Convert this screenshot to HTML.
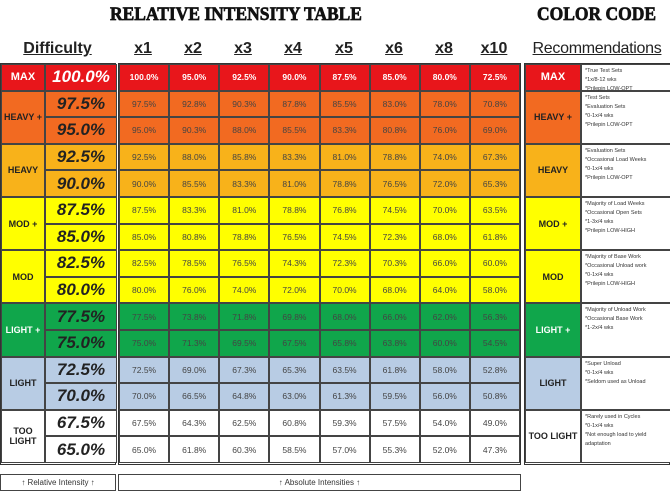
<!DOCTYPE html>
<html><head><style>
body{margin:0;width:670px;height:493px;background:#fff;font-family:"Liberation Sans",sans-serif;position:relative;overflow:hidden}
.abs{position:absolute}
.title{font-family:"Liberation Serif",serif;font-weight:bold;font-size:19px;color:#111;top:4px;white-space:nowrap;transform-origin:left top;-webkit-text-stroke:0.7px #111}
.hd{top:40px;font-size:16px;font-weight:bold;text-decoration:underline;color:#222;text-align:center;white-space:nowrap}
.g{display:grid;grid-template-rows:repeat(15,26.6px);border:1.5px solid #333;box-sizing:border-box;top:63px;height:402px}
.g>div{border:0.5px solid #444;display:flex;align-items:center;justify-content:center;box-sizing:border-box}
.lab{font-size:9px;font-weight:bold;color:#222;text-align:center}
.val{font-size:17px;font-weight:bold;font-style:italic;color:#222}
.c{font-size:8.5px;color:#444}
.n{font-size:5.5px;color:#333;justify-content:flex-start!important;align-items:flex-start!important;padding:2px 3px;line-height:9px;background:#fff}
.r{background:#e8161b}.o{background:#f26a21}.h{background:#f8b21a}.y{background:#ffff00}.gr{background:#10a64b}.b{background:#b8cce4}.w{background:#fff}
.foot{top:474px;height:17px;border:1px solid #444;font-size:8px;color:#333;display:flex;align-items:center;justify-content:center;box-sizing:border-box}
</style></head><body>
<div class="abs title" style="left:110px;transform:scaleX(0.92)">RELATIVE INTENSITY TABLE</div>
<div class="abs title" style="left:537px;transform:scaleX(0.92)">COLOR CODE</div>
<div class="abs hd" style="left:0;width:115px">Difficulty</div>
<div class="abs hd" style="left:118px;width:50px">x1</div>
<div class="abs hd" style="left:168px;width:50px">x2</div>
<div class="abs hd" style="left:218px;width:50px">x3</div>
<div class="abs hd" style="left:268px;width:50px">x4</div>
<div class="abs hd" style="left:319px;width:50px">x5</div>
<div class="abs hd" style="left:369px;width:50px">x6</div>
<div class="abs hd" style="left:419px;width:50px">x8</div>
<div class="abs hd" style="left:469px;width:50px">x10</div>
<div class="abs hd" style="left:524px;width:146px;font-size:16px;font-weight:normal;letter-spacing:-0.3px">Recommendations</div>

<div class="abs g" style="left:0;width:116px;grid-template-columns:44px 72px">
<div class="lab r" style="color:#fff;font-size:11px">MAX</div><div class="val r" style="color:#fff">100.0%</div>
<div class="lab o" style="grid-row:span 2">HEAVY +</div><div class="val o">97.5%</div><div class="val o">95.0%</div>
<div class="lab h" style="grid-row:span 2">HEAVY</div><div class="val h">92.5%</div><div class="val h">90.0%</div>
<div class="lab y" style="grid-row:span 2">MOD +</div><div class="val y">87.5%</div><div class="val y">85.0%</div>
<div class="lab y" style="grid-row:span 2">MOD</div><div class="val y">82.5%</div><div class="val y">80.0%</div>
<div class="lab gr" style="grid-row:span 2;color:#fff">LIGHT +</div><div class="val gr">77.5%</div><div class="val gr">75.0%</div>
<div class="lab b" style="grid-row:span 2">LIGHT</div><div class="val b">72.5%</div><div class="val b">70.0%</div>
<div class="lab w" style="grid-row:span 2">TOO<br>LIGHT</div><div class="val w">67.5%</div><div class="val w">65.0%</div>
</div>

<div class="abs g" id="m" style="left:118px;width:403px;grid-template-columns:repeat(8,1fr)"></div>

<div class="abs g" style="left:524px;width:146px;grid-template-columns:56px 90px">
<div class="lab r" style="color:#fff;font-size:11px">MAX</div><div class="n">*True Test Sets<br>*1x/8-12 wks<br>*Prilepin LOW-OPT</div>
<div class="lab o" style="grid-row:span 2">HEAVY +</div><div class="n" style="grid-row:span 2">*Test Sets<br>*Evaluation Sets<br>*0-1x/4 wks<br>*Prilepin LOW-OPT</div>
<div class="lab h" style="grid-row:span 2">HEAVY</div><div class="n" style="grid-row:span 2">*Evaluation Sets<br>*Occasional Load Weeks<br>*0-1x/4 wks<br>*Prilepin LOW-OPT</div>
<div class="lab y" style="grid-row:span 2">MOD +</div><div class="n" style="grid-row:span 2">*Majority of Load Weeks<br>*Occasional Open Sets<br>*1-3x/4 wks<br>*Prilepin LOW-HIGH</div>
<div class="lab y" style="grid-row:span 2">MOD</div><div class="n" style="grid-row:span 2">*Majority of Base Work<br>*Occasional Unload work<br>*0-1x/4 wks<br>*Prilepin LOW-HIGH</div>
<div class="lab gr" style="grid-row:span 2;color:#fff">LIGHT +</div><div class="n" style="grid-row:span 2">*Majority of Unload Work<br>*Occasional Base Work<br>*1-2x/4 wks</div>
<div class="lab b" style="grid-row:span 2">LIGHT</div><div class="n" style="grid-row:span 2">*Super Unload<br>*0-1x/4 wks<br>*Seldom used as Unload</div>
<div class="lab w" style="grid-row:span 2">TOO LIGHT</div><div class="n" style="grid-row:span 2">*Rarely used in Cycles<br>*0-1x/4 wks<br>*Not enough load to yield adaptation</div>
</div>

<div class="abs foot" style="left:0;width:116px">↑ Relative Intensity ↑</div>
<div class="abs foot" style="left:118px;width:403px">↑ Absolute Intensities ↑</div>
<script>
var d=[["r","100.0 95.0 92.5 90.0 87.5 85.0 80.0 72.5"],["o","97.5 92.8 90.3 87.8 85.5 83.0 78.0 70.8"],["o","95.0 90.3 88.0 85.5 83.3 80.8 76.0 69.0"],["h","92.5 88.0 85.8 83.3 81.0 78.8 74.0 67.3"],["h","90.0 85.5 83.3 81.0 78.8 76.5 72.0 65.3"],["y","87.5 83.3 81.0 78.8 76.8 74.5 70.0 63.5"],["y","85.0 80.8 78.8 76.5 74.5 72.3 68.0 61.8"],["y","82.5 78.5 76.5 74.3 72.3 70.3 66.0 60.0"],["y","80.0 76.0 74.0 72.0 70.0 68.0 64.0 58.0"],["gr","77.5 73.8 71.8 69.8 68.0 66.0 62.0 56.3"],["gr","75.0 71.3 69.5 67.5 65.8 63.8 60.0 54.5"],["b","72.5 69.0 67.3 65.3 63.5 61.8 58.0 52.8"],["b","70.0 66.5 64.8 63.0 61.3 59.5 56.0 50.8"],["w","67.5 64.3 62.5 60.8 59.3 57.5 54.0 49.0"],["w","65.0 61.8 60.3 58.5 57.0 55.3 52.0 47.3"]];
var h="";d.forEach(function(r,i){r[1].split(" ").forEach(function(v){h+='<div class="c '+r[0]+'"'+(i==0?' style="color:#fff;font-weight:bold"':'')+'>'+v+'%</div>';});});
document.getElementById("m").innerHTML=h;
</script>
</body></html>
